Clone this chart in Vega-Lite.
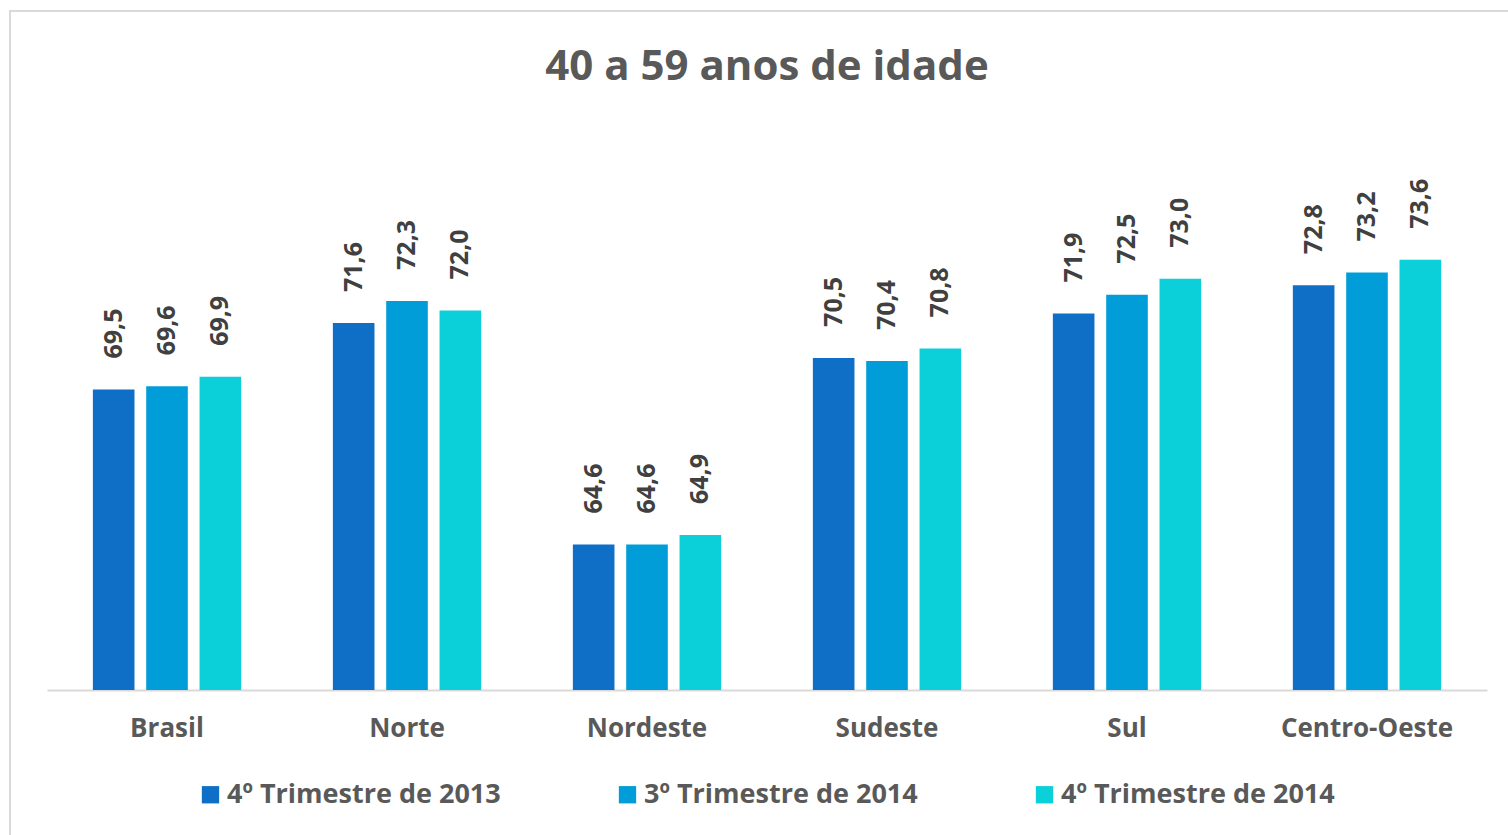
{
  "$schema": "https://vega.github.io/schema/vega-lite/v6.json",
  "width": 1498,
  "height": 824,
  "autosize": {"type": "none"},
  "padding": {"left": 10, "top": 11, "right": 0, "bottom": 0},
  "background": "white",
  "title": {
    "text": "40 a 59 anos de idade",
    "font": "Open Sans",
    "fontSize": 42,
    "fontWeight": "bold",
    "color": "#595959",
    "anchor": "middle",
    "frame": "group",
    "orient": "top",
    "baseline": "alphabetic",
    "offset": -111,
    "dx": 8
  },
  "data": {
    "values": [
      {"regiao": "Brasil", "serie": "4º Trimestre de 2013", "valor": 69.5},
      {"regiao": "Brasil", "serie": "3º Trimestre de 2014", "valor": 69.6},
      {"regiao": "Brasil", "serie": "4º Trimestre de 2014", "valor": 69.9},
      {"regiao": "Norte", "serie": "4º Trimestre de 2013", "valor": 71.6},
      {"regiao": "Norte", "serie": "3º Trimestre de 2014", "valor": 72.3},
      {"regiao": "Norte", "serie": "4º Trimestre de 2014", "valor": 72.0},
      {"regiao": "Nordeste", "serie": "4º Trimestre de 2013", "valor": 64.6},
      {"regiao": "Nordeste", "serie": "3º Trimestre de 2014", "valor": 64.6},
      {"regiao": "Nordeste", "serie": "4º Trimestre de 2014", "valor": 64.9},
      {"regiao": "Sudeste", "serie": "4º Trimestre de 2013", "valor": 70.5},
      {"regiao": "Sudeste", "serie": "3º Trimestre de 2014", "valor": 70.4},
      {"regiao": "Sudeste", "serie": "4º Trimestre de 2014", "valor": 70.8},
      {"regiao": "Sul", "serie": "4º Trimestre de 2013", "valor": 71.9},
      {"regiao": "Sul", "serie": "3º Trimestre de 2014", "valor": 72.5},
      {"regiao": "Sul", "serie": "4º Trimestre de 2014", "valor": 73.0},
      {"regiao": "Centro-Oeste", "serie": "4º Trimestre de 2013", "valor": 72.8},
      {"regiao": "Centro-Oeste", "serie": "3º Trimestre de 2014", "valor": 73.2},
      {"regiao": "Centro-Oeste", "serie": "4º Trimestre de 2014", "valor": 73.6}
    ]
  },
  "encoding": {
    "x": {
      "field": "regiao",
      "type": "nominal",
      "sort": ["Brasil", "Norte", "Nordeste", "Sudeste", "Sul", "Centro-Oeste"],
      "scale": {"range": [37, 1477], "paddingInner": 0.3333, "paddingOuter": 0.1667},
      "axis": {
        "orient": "bottom",
        "offset": -145,
        "title": null,
        "domainColor": "#d9d9d9",
        "domainWidth": 2,
        "ticks": false,
        "labelAngle": 0,
        "labelFont": "Open Sans",
        "labelFontWeight": "bold",
        "labelFontSize": 26,
        "labelColor": "#595959",
        "labelPadding": 25,
        "labelLimit": 400
      }
    },
    "xOffset": {
      "field": "serie",
      "type": "nominal",
      "sort": ["4º Trimestre de 2013", "3º Trimestre de 2014", "4º Trimestre de 2014"],
      "scale": {"paddingInner": 0.22, "paddingOuter": 0.11}
    },
    "y": {
      "field": "valor",
      "type": "quantitative",
      "scale": {"domain": [60, 80], "range": [679, 46.4], "zero": false, "nice": false},
      "axis": null
    }
  },
  "layer": [
    {
      "mark": {"type": "bar"},
      "encoding": {
        "y2": {"datum": 60},
        "color": {
          "field": "serie",
          "type": "nominal",
          "sort": ["4º Trimestre de 2013", "3º Trimestre de 2014", "4º Trimestre de 2014"],
          "scale": {
            "domain": ["4º Trimestre de 2013", "3º Trimestre de 2014", "4º Trimestre de 2014"],
            "range": ["#0F6FC6", "#009DD9", "#0BD0D9"]
          },
          "legend": {
            "orient": "none",
            "legendX": 187,
            "legendY": 770,
            "direction": "horizontal",
            "title": null,
            "padding": 0,
            "symbolType": "square",
            "symbolSize": 300,
            "symbolStrokeWidth": 0,
            "symbolOpacity": 1,
            "labelFont": "Open Sans",
            "labelFontWeight": "bold",
            "labelFontSize": 27,
            "labelColor": "#595959",
            "labelOffset": 3,
            "labelLimit": 400,
            "columnPadding": 113
          }
        }
      }
    },
    {
      "mark": {
        "type": "text",
        "angle": 270,
        "align": "left",
        "baseline": "middle",
        "dx": 31,
        "font": "Open Sans",
        "fontWeight": "bold",
        "fontSize": 25,
        "color": "#404040"
      },
      "encoding": {
        "text": {"field": "valor", "type": "quantitative", "format": ".1f"}
      }
    }
  ],
  "config": {
    "view": {"stroke": "#d9d9d9", "strokeWidth": 2, "strokeDash": [1498, 2322, 830, 10]},
    "locale": {
      "number": {"decimal": ",", "thousands": ".", "grouping": [3], "currency": ["R$ ", ""]}
    }
  }
}
